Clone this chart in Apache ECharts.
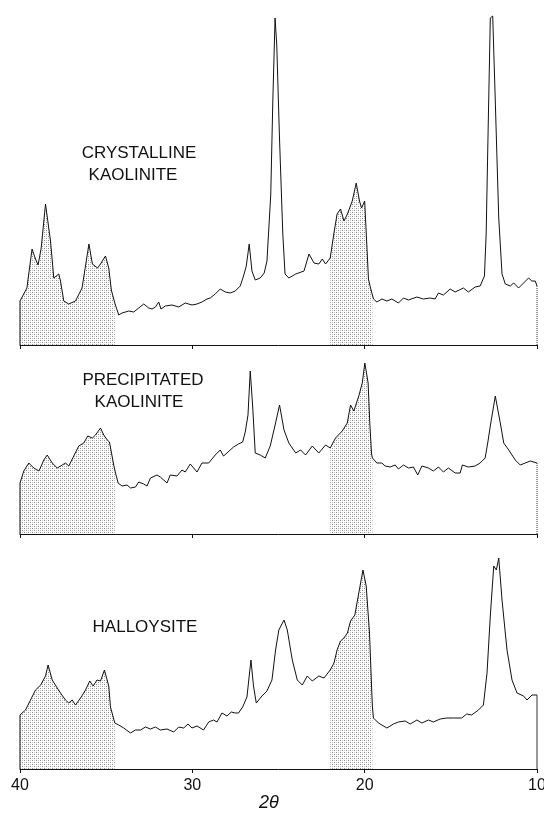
<!DOCTYPE html>
<html><head><meta charset="utf-8">
<script src="https://cdn.jsdelivr.net/npm/echarts@6/dist/echarts.min.js"></script>
<style>html,body{margin:0;padding:0;background:#fff}#c{width:544px;height:817px}</style>
</head><body><div id="c"></div>
<script>
// x ticks (2θ, degrees)
const xTicks = [40, 30, 20, 10];
// Intensity traces [2θ, intensity (arb. units)]
const crystalline = [[40.0,44],[39.9,42],[39.6,57],[39.3,96],[39.1,86],[38.95,80],[38.77,97],[38.52,141],[38.23,104],[38.04,67],[37.75,71],[37.65,64],[37.46,44],[37.17,41],[36.78,44],[36.4,57],[36.0,101],[35.8,81],[35.5,77],[35.33,81],[35.04,89],[34.85,77],[34.7,55],[34.5,42],[34.27,30],[34.08,32],[33.69,34],[33.4,33],[33.11,37],[32.82,41],[32.53,37],[32.34,36],[32.14,38],[31.95,43],[31.82,36],[31.57,39],[31.18,40],[30.79,38],[30.41,42],[30.02,40],[29.73,41],[29.44,43],[29.15,46],[28.96,47],[28.67,51],[28.38,56],[28.09,53],[27.8,52],[27.51,54],[27.22,59],[27.03,69],[26.87,79],[26.7,101],[26.54,74],[26.35,65],[26.06,67],[25.83,72],[25.67,84],[25.45,150],[25.33,244],[25.2,327],[25.1,300],[24.95,211],[24.75,111],[24.62,71],[24.4,67],[24.0,71],[23.52,74],[23.23,91],[22.94,82],[22.66,81],[22.46,86],[22.27,81],[22.0,87],[21.79,111],[21.6,131],[21.4,136],[21.2,124],[21.0,131],[20.72,144],[20.49,162],[20.3,144],[20.18,137],[20.0,144],[19.85,91],[19.78,66],[19.66,57],[19.55,50],[19.49,46],[19.29,43],[19.0,46],[18.71,44],[18.42,46],[18.04,42],[17.75,47],[17.46,45],[16.97,48],[16.59,46],[16.2,47],[15.91,46],[15.72,52],[15.43,50],[15.04,56],[14.75,53],[14.27,57],[13.98,53],[13.59,58],[13.3,59],[13.05,69],[12.95,111],[12.84,211],[12.71,327],[12.57,329],[12.42,244],[12.22,127],[12.03,71],[11.84,61],[11.55,59],[11.35,62],[11.07,57],[10.78,62],[10.49,67],[10.3,64],[10.1,64],[10.0,59]];
const precipitated = [[40.0,51],[39.78,63],[39.49,71],[39.2,66],[38.9,63],[38.62,74],[38.42,79],[38.13,71],[37.84,66],[37.55,69],[37.36,71],[37.17,68],[36.88,78],[36.59,88],[36.3,91],[36.07,98],[35.8,96],[35.62,99],[35.33,106],[35.14,99],[34.94,94],[34.81,92],[34.56,69],[34.5,64],[34.31,51],[34.08,48],[33.79,49],[33.59,46],[33.3,47],[33.11,52],[32.82,50],[32.63,48],[32.43,56],[32.05,59],[31.86,57],[31.47,51],[31.28,59],[30.89,58],[30.6,64],[30.41,62],[30.12,70],[29.92,66],[29.73,62],[29.44,71],[29.05,71],[28.67,79],[28.38,84],[28.19,78],[27.99,81],[27.61,87],[27.32,90],[27.08,92],[26.93,102],[26.77,119],[26.64,163],[26.5,128],[26.35,81],[26.06,79],[25.77,76],[25.48,88],[25.17,111],[24.94,129],[24.68,104],[24.4,91],[24.0,81],[23.72,84],[23.43,79],[23.04,88],[22.66,81],[22.27,89],[22.0,86],[21.69,96],[21.3,103],[21.01,111],[20.82,129],[20.63,123],[20.34,138],[20.14,151],[19.99,171],[19.8,151],[19.7,110],[19.6,80],[19.55,76],[19.29,71],[19.0,71],[18.81,68],[18.52,67],[18.23,69],[18.04,65],[17.75,69],[17.46,66],[17.17,67],[16.92,59],[16.68,68],[16.3,66],[16.01,63],[15.72,67],[15.43,62],[15.14,66],[14.75,61],[14.46,61],[14.33,69],[13.98,67],[13.59,68],[13.3,71],[13.01,76],[12.85,92],[12.71,108],[12.42,138],[12.13,111],[11.93,91],[11.64,84],[11.26,74],[10.97,69],[10.68,71],[10.39,73],[10.0,71]];
const halloysite = [[40.0,54],[39.68,59],[39.39,69],[39.1,79],[38.8,84],[38.52,93],[38.37,104],[38.13,89],[37.84,81],[37.65,76],[37.36,69],[37.17,66],[36.97,69],[36.78,64],[36.49,71],[36.2,79],[35.95,88],[35.76,83],[35.53,89],[35.33,88],[35.1,99],[34.85,83],[34.75,62],[34.5,46],[34.27,44],[33.98,41],[33.59,36],[33.3,39],[33.01,39],[32.72,42],[32.43,40],[32.14,42],[31.86,39],[31.47,40],[31.08,37],[30.79,42],[30.5,41],[30.25,45],[30.02,41],[29.73,43],[29.35,39],[29.05,47],[28.77,49],[28.57,47],[28.28,56],[27.99,53],[27.74,57],[27.51,56],[27.32,56],[27.08,62],[26.83,72],[26.6,109],[26.45,83],[26.29,66],[25.96,73],[25.67,78],[25.38,89],[25.17,119],[24.98,139],[24.68,149],[24.49,139],[24.2,109],[23.91,89],[23.62,84],[23.33,93],[23.04,88],[22.66,93],[22.36,91],[22.0,99],[21.78,106],[21.6,119],[21.4,128],[21.2,131],[21.0,136],[20.82,148],[20.57,154],[20.34,176],[20.1,199],[19.91,183],[19.72,136],[19.58,74],[19.55,62],[19.49,51],[19.2,46],[18.71,41],[18.33,45],[18.04,47],[17.65,48],[17.36,45],[16.97,49],[16.68,46],[16.3,49],[16.01,47],[15.62,50],[15.23,51],[14.85,51],[14.37,51],[14.08,55],[13.79,54],[13.4,59],[13.11,64],[12.9,96],[12.71,153],[12.51,203],[12.36,199],[12.22,211],[12.03,169],[11.74,119],[11.45,89],[11.16,76],[10.78,73],[10.58,69],[10.29,74],[10.0,74]];
// shaded 2θ ranges [from, to]
const shadeRanges = [[34.5, 40.0], [19.55, 22.0]];
const panelLabels = [["CRYSTALLINE", "KAOLINITE"], ["PRECIPITATED", "KAOLINITE"], ["HALLOYSITE"]];
const axisTitle = "2θ";

const panels = [crystalline, precipitated, halloysite];

function stipple() {
  const c = document.createElement('canvas');
  c.width = 4; c.height = 4;
  const g = c.getContext('2d');
  g.fillStyle = '#ffffff'; g.fillRect(0, 0, 4, 4);
  g.fillStyle = '#8a8a8a'; g.fillRect(0, 0, 1, 1); g.fillRect(2, 2, 1, 1);
  g.fillStyle = '#c4c4c4'; g.fillRect(2, 0, 1, 1); g.fillRect(0, 2, 1, 1);
  return c;
}
const pattern = { image: stipple(), repeat: 'repeat' };

const layout = { tops: [15, 204, 439], h: 330, left: 20, width: 517 };
const FONT = '"Liberation Sans", Arial, sans-serif';

const grid = [], xAxis = [], yAxis = [], series = [];
panels.forEach((d, i) => {
  grid.push({ left: layout.left, width: layout.width, top: layout.tops[i], height: layout.h,
    containLabel: false, outerBoundsMode: 'none' });
  xAxis.push({
    type: 'value', gridIndex: i, min: 10, max: 40, interval: 10, inverse: true,
    axisLine: { show: true, lineStyle: { color: '#111', width: 1 } },
    axisTick: { show: true, length: 4, lineStyle: { color: '#111', width: 1 } },
    axisLabel: { show: i === 2, color: '#111', fontSize: 16, margin: 9, fontFamily: FONT },
    splitLine: { show: false }
  });
  yAxis.push({ type: 'value', gridIndex: i, min: 0, max: 330, show: false });
  shadeRanges.forEach(r => {
    series.push({
      type: 'line', xAxisIndex: i, yAxisIndex: i, z: 1, silent: true,
      data: d.filter(p => p[0] >= r[0] - 1e-9 && p[0] <= r[1] + 1e-9),
      showSymbol: false, lineStyle: { width: 0 },
      areaStyle: { color: pattern, opacity: 1 }
    });
  });
  series.push({
    type: 'line', xAxisIndex: i, yAxisIndex: i, z: 3, silent: true, data: d,
    showSymbol: false, lineStyle: { color: '#111', width: 1 }
  });
  series.push({
    type: 'line', xAxisIndex: i, yAxisIndex: i, z: 3, silent: true,
    data: [[d[0][0], 0], d[0]], showSymbol: false, lineStyle: { color: '#111', width: 1 }
  });
  const last = d[d.length - 1];
  series.push({
    type: 'line', xAxisIndex: i, yAxisIndex: i, z: 3, silent: true,
    data: [[last[0], 0], last], showSymbol: false,
    lineStyle: { color: '#333', width: 1, type: i === 2 ? 'solid' : 'dotted' }
  });
});

const labelPos = [[[139, 153], [133, 175]], [[143, 380], [139, 402]], [[145, 627]]];
const graphic = [];
panelLabels.forEach((lines, i) => lines.forEach((t, j) => {
  graphic.push({ type: 'text', x: labelPos[i][j][0], y: labelPos[i][j][1],
    style: { text: t, fill: '#111', font: '17px ' + FONT, textAlign: 'center', textVerticalAlign: 'middle' } });
}));
graphic.push({ type: 'text', x: 269, y: 803,
  style: { text: axisTitle, fill: '#111', font: 'italic 18px ' + FONT, textAlign: 'center', textVerticalAlign: 'middle' } });

const chart = echarts.init(document.getElementById('c'), null, { renderer: 'canvas' });
chart.setOption({ backgroundColor: '#fff', animation: false, grid, xAxis, yAxis, series, graphic });
</script></body></html>
